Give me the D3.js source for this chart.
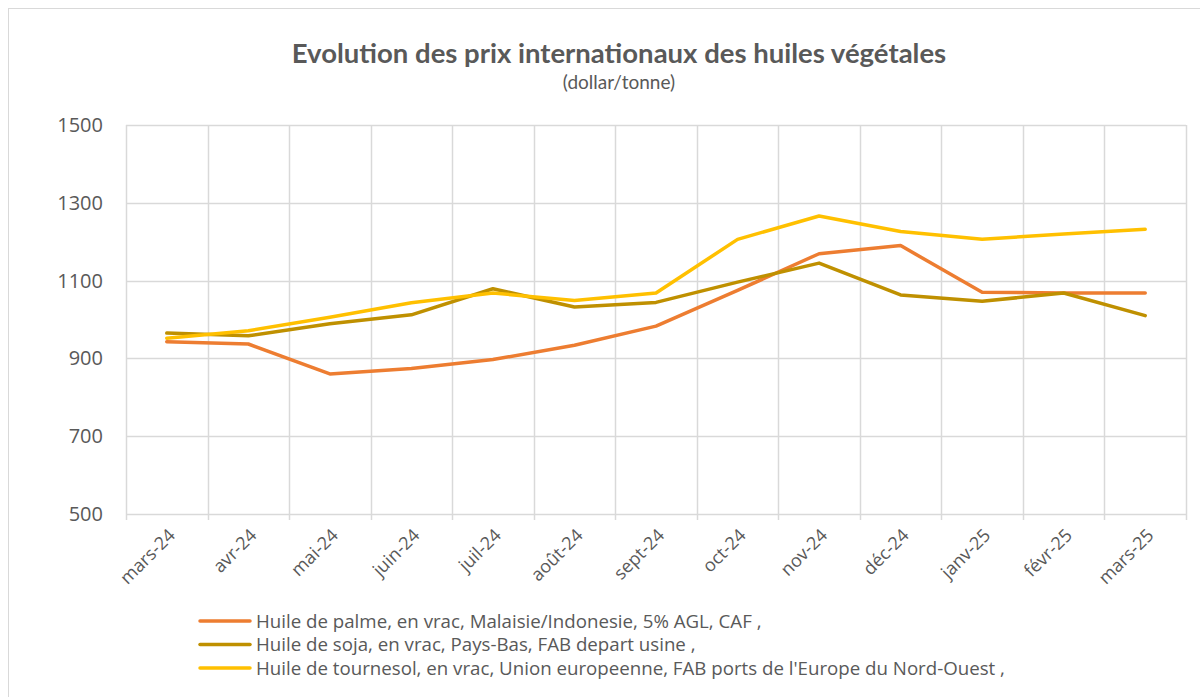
<!DOCTYPE html>
<html>
<head>
<meta charset="utf-8">
<script src="https://cdn.jsdelivr.net/npm/d3@7"></script>
<style>
  body { margin: 0; background: #fff; }
  text { font-family: "Open Sans", "Noto Sans", sans-serif; fill: #595959; }
</style>
</head>
<body>
<div id="chart-area"></div>
<script>
// Data
var months = ["mars-24", "avr-24", "mai-24", "juin-24", "juil-24", "août-24", "sept-24",
              "oct-24", "nov-24", "déc-24", "janv-25", "févr-25", "mars-25"];
var palme = [943, 937, 860, 874, 897, 934, 983, 1075, 1169, 1190, 1070, 1068, 1068];
var soja = [965, 958, 989, 1012, 1079, 1032, 1044, 1096, 1145, 1063, 1047, 1068, 1010];
var tournesol = [952, 971, 1006, 1043, 1068, 1049, 1068, 1206, 1266, 1226, 1206, 1220, 1232];
var yTicks = [500, 700, 900, 1100, 1300, 1500];
var seriesNames = [
    "Huile de palme, en vrac, Malaisie/Indonesie, 5% AGL, CAF ,",
    "Huile de soja, en vrac, Pays-Bas, FAB depart usine ,",
    "Huile de tournesol, en vrac, Union europeenne, FAB ports de l'Europe du Nord-Ouest ,"
];

var series = [
    { name: seriesNames[0], values: palme, color: "#ED7D31" },
    { name: seriesNames[1], values: soja, color: "#BF9000" },
    { name: seriesNames[2], values: tournesol, color: "#FFC000" }
];

var W = 1200, H = 697;
var margin = { left: 126, right: 14, top: 125, bottom: 183 };
var width = W - margin.left - margin.right,
    height = H - margin.top - margin.bottom;

var svg = d3.select("#chart-area")
    .append("svg")
        .attr("width", W)
        .attr("height", H);

// outer border
svg.append("rect")
    .attr("x", 8.5).attr("y", 8.5)
    .attr("width", W - 8).attr("height", H)
    .attr("fill", "none")
    .attr("stroke", "#d9d9d9");

// Title
svg.append("text")
    .attr("x", 619).attr("y", 63)
    .attr("text-anchor", "middle")
    .attr("font-size", "27.5px")
    .attr("font-weight", "bold")
    .style("font-family", "Lato, sans-serif")
    .text("Evolution des prix internationaux des huiles végétales");
svg.append("text")
    .attr("x", 619).attr("y", 89)
    .attr("text-anchor", "middle")
    .attr("font-size", "19px")
    .style("font-family", "Lato, sans-serif")
    .text("(dollar/tonne)");

var g = svg.append("g")
    .attr("transform", "translate(" + margin.left + ", " + margin.top + ")");

// Scales
var x = d3.scaleBand()
    .domain(months)
    .range([0, width]);

var y = d3.scaleLinear()
    .domain([500, 1500])
    .range([height, 0]);

// Grid
g.append("g")
    .selectAll("line.h")
    .data(yTicks)
    .enter().append("line")
        .attr("x1", 0).attr("x2", width)
        .attr("y1", function(d){ return Math.round(y(d)) + 0.5; })
        .attr("y2", function(d){ return Math.round(y(d)) + 0.5; })
        .attr("stroke", "#d9d9d9")
        .attr("stroke-width", 1.5);

var bounds = months.map(function(m){ return x(m); }).concat([width]);
g.append("g")
    .selectAll("line.v")
    .data(bounds)
    .enter().append("line")
        .attr("x1", function(d){ return Math.round(d) + 0.5; })
        .attr("x2", function(d){ return Math.round(d) + 0.5; })
        .attr("y1", 0).attr("y2", height + 6)
        .attr("stroke", "#d9d9d9")
        .attr("stroke-width", 1.5);

// Y Axis
var yAxisCall = d3.axisLeft(y).tickValues(yTicks).tickSize(0).tickPadding(23)
    .tickFormat(d3.format("d"));
var yAxisGroup = g.append("g").call(yAxisCall);
yAxisGroup.select(".domain").remove();
yAxisGroup.selectAll("text")
    .attr("font-size", "20px")
    .style("font-family", "\"Open Sans\", sans-serif")
    .attr("fill", "#595959");

// X Axis
var xAxisCall = d3.axisBottom(x).tickSize(0).tickPadding(0);
var xAxisGroup = g.append("g")
    .attr("transform", "translate(0," + height + ")")
    .call(xAxisCall);
xAxisGroup.select(".domain").remove();
xAxisGroup.selectAll("text")
    .attr("font-size", "18px")
    .style("font-family", "\"Open Sans\", sans-serif")
    .attr("fill", "#595959")
    .attr("text-anchor", "end")
    .attr("dy", "0.35em")
    .attr("transform", "translate(5,18) rotate(-45)");

// Lines
var line = d3.line()
    .x(function(d, i){ return x(months[i]) + x.bandwidth() / 2; })
    .y(function(d){ return y(d); });

g.selectAll("path.series")
    .data(series)
    .enter().append("path")
        .attr("class", "series")
        .attr("d", function(s){ return line(s.values); })
        .attr("fill", "none")
        .attr("stroke", function(s){ return s.color; })
        .attr("stroke-width", 3.5)
        .attr("stroke-linejoin", "round")
        .attr("stroke-linecap", "round");

// Legend
var legend = svg.append("g")
    .attr("transform", "translate(198, 621)");
var items = legend.selectAll("g")
    .data(series)
    .enter().append("g")
        .attr("transform", function(d, i){ return "translate(0," + (i * 23.5) + ")"; });
items.append("line")
    .attr("x1", 2).attr("x2", 52)
    .attr("stroke", function(d){ return d.color; })
    .attr("stroke-width", 3.5)
    .attr("stroke-linecap", "round");
items.append("text")
    .attr("x", 58).attr("dy", "0.35em")
    .attr("font-size", "18.7px")
    .text(function(d){ return d.name; });
</script>
</body>
</html>
